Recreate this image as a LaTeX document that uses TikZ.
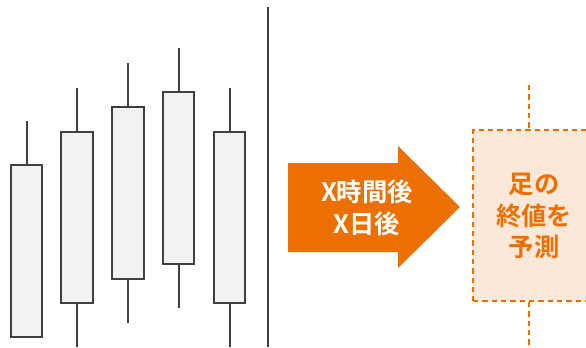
\documentclass[tikz,border=0pt]{standalone}
\usepackage{fontspec}
\newfontfamily\cjk{Noto Sans CJK JP}[BoldFont=Noto Sans CJK JP Bold]
\definecolor{candleline}{HTML}{404040}
\definecolor{candlefill}{HTML}{F2F2F2}
\definecolor{predorange}{HTML}{EB7000}
\definecolor{predfill}{HTML}{FCE8D8}
\tikzset{
  candle/.style={draw=candleline, fill=candlefill, line width=1.5pt, minimum width=23.5pt, inner sep=0pt},
  wick/.style={draw=candleline, line width=1.5pt},
  predwick/.style={draw=predorange, line width=1.5pt, dash pattern=on 4pt off 3pt},
}
\begin{document}
\begin{tikzpicture}[x=0.75pt, y=-0.75pt]
\useasboundingbox (0,0) rectangle (586,347);
\clip (0,0) rectangle (586,347);
% candles
\node[candle, minimum height=129pt] (C1) at (26.5,251){};
\node[candle, minimum height=128.25pt] (C2) at (77,217.5){};
\node[candle, minimum height=129pt] (C3) at (128,193){};
\node[candle, minimum height=129pt] (C4) at (178.5,178){};
\node[candle, minimum height=128.25pt] (C5) at (229.5,217.5){};
\coordinate (C1t) at (26.5,121);
\coordinate (C2t) at (77,88);
\coordinate (C2b) at (77,347);
\coordinate (C3t) at (128,63);
\coordinate (C3b) at (128,323);
\coordinate (C4t) at (178.5,48);
\coordinate (C4b) at (178.5,308);
\coordinate (C5t) at (229.5,88);
\coordinate (C5b) at (229.5,347);
\draw[wick] (C1t) -- (C1.north);
\draw[wick] (C2t) -- (C2.north);
\draw[wick] (C2.south) -- (C2b);
\draw[wick] (C3t) -- (C3.north);
\draw[wick] (C3.south) -- (C3b);
\draw[wick] (C4t) -- (C4.north);
\draw[wick] (C4.south) -- (C4b);
\draw[wick] (C5t) -- (C5.north);
\draw[wick] (C5.south) -- (C5b);
% now line
\coordinate (N1) at (268,7);
\coordinate (N2) at (268,347);
\draw[wick] (N1) -- (N2);
% arrow
\fill[predorange] (288,163) -- (398,163) -- (398,146) -- (460,207) -- (398,268) -- (398,252) -- (288,252) -- cycle;
\node[text=white, align=center, font=\cjk\bfseries\fontsize{19}{23.5}\selectfont] (T) at (367,208){X時間後\\X日後};
% predicted candle
\node[draw=predorange, fill=predfill, line width=1.5pt, dash pattern=on 4pt off 3pt, minimum width=87pt, minimum height=128.25pt, inner sep=0pt] (P) at (531,215.5){};
\coordinate (Pt) at (529,85);
\coordinate (Pb) at (529,347);
\draw[predwick] (Pt) -- (P.north -| Pt);
\draw[predwick] (P.south -| Pb) -- (Pb);
\node[text=predorange, align=center, font=\cjk\bfseries\fontsize{19}{23.7}\selectfont] (L) at (534,216){足の\\終値を\\予測};
\end{tikzpicture}
\end{document}
